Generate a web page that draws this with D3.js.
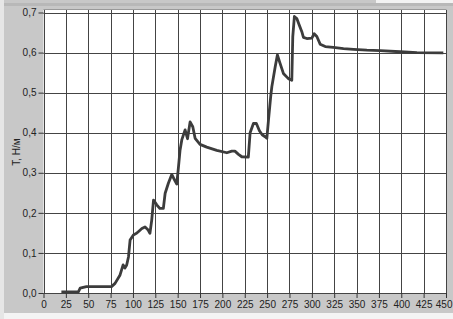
<!DOCTYPE html>
<html><head><meta charset="utf-8">
<script src="https://cdn.jsdelivr.net/npm/d3@7"></script>
<style>body{margin:0;background:#c8c8c8;}svg{display:block;}</style>
</head><body>
<script>
const xValues = [20,39,41,48,76,80,85.6,89,91,93,95,96.8,100.5,104,106,110,113.5,117,119,121,123,126.6,130,134,136,139.6,143.4,147,149,150.8,152.7,154.6,158.3,161,163.9,166.9,169.5,175,182.5,193.7,205,210.5,214,218,221.7,229,231,234.7,238,241.4,244.5,247.8,249.7,251.5,254,255.3,259,261.5,264.5,268.2,273.8,277.6,278.7,280.5,283.2,286,288.8,290.6,294.4,300,302.6,305.6,309.3,315,324,335.4,346.6,361.5,376.4,398.8,417.5,447];
const yValues = [0.003,0.003,0.012,0.016,0.016,0.024,0.045,0.07,0.062,0.07,0.09,0.132,0.145,0.149,0.153,0.161,0.165,0.157,0.149,0.182,0.232,0.22,0.211,0.211,0.249,0.274,0.296,0.28,0.272,0.312,0.357,0.382,0.407,0.385,0.427,0.415,0.386,0.371,0.364,0.356,0.350,0.354,0.354,0.346,0.340,0.339,0.40,0.423,0.423,0.405,0.395,0.390,0.386,0.431,0.490,0.515,0.564,0.594,0.573,0.548,0.535,0.531,0.640,0.690,0.685,0.668,0.652,0.638,0.635,0.636,0.647,0.640,0.621,0.615,0.613,0.610,0.608,0.606,0.605,0.602,0.600,0.599];
const xTicks = [0,25,50,75,100,125,150,175,200,225,250,275,300,325,350,375,400,425,450];
const yTicks = [0,0.1,0.2,0.3,0.4,0.5,0.6,0.7];
const yLabel = "T, Н/м";

const W = 453, H = 319;
const svg = d3.select("body").append("svg").attr("width", W).attr("height", H);
svg.append("rect").attr("x",0).attr("y",0).attr("width",W).attr("height",H).attr("fill","#c8c8c8");
svg.append("rect").attr("x",0).attr("y",313).attr("width",W).attr("height",6).attr("fill","#f4f4f4");
svg.append("rect").attr("x",0).attr("y",0).attr("width",4).attr("height",H).attr("fill","#e6e6e6");
svg.append("rect").attr("x",376).attr("y",0).attr("width",77).attr("height",3).attr("fill","#f2f2f2");
svg.append("rect").attr("x",4).attr("y",3).attr("width",449).attr("height",3).attr("fill","#b8b8b8");

const x = d3.scaleLinear().domain([0,450]).range([43.5,446]);
const y = d3.scaleLinear().domain([0,0.7]).range([293,12.5]);

svg.append("rect").attr("x",43.5).attr("y",10).attr("width",403).attr("height",283).attr("fill","#ffffff");
svg.append("line").attr("x1",43.5).attr("x2",446.5).attr("y1",9.5).attr("y2",9.5).attr("stroke","#9a9a9a");

const grid = svg.append("g").attr("stroke","#444").attr("stroke-width",1);
xTicks.forEach(t => grid.append("line").attr("x1",Math.round(x(t))+0.5).attr("x2",Math.round(x(t))+0.5).attr("y1",10).attr("y2",293));
yTicks.forEach(t => grid.append("line").attr("x1",43.5).attr("x2",446).attr("y1",Math.round(y(t))+0.5).attr("y2",Math.round(y(t))+0.5));

const fmt = d => d3.format(".1f")(d).replace(".", ",");
const xAxis = d3.axisBottom(x).tickValues(xTicks).tickSize(5).tickPadding(3).tickFormat(d3.format("d"));
const yAxis = d3.axisLeft(y).tickValues(yTicks).tickSize(5).tickPadding(2).tickFormat(fmt);
const gx = svg.append("g").attr("transform","translate(0,293)").call(xAxis);
const gy = svg.append("g").attr("transform","translate(43.5,0)").call(yAxis);
[gx,gy].forEach(g=>{
  g.select(".domain").remove();
  g.selectAll("line").attr("stroke","#333");
  g.selectAll("text").attr("fill","#222").style("font-family","Liberation Sans, Arial, sans-serif").style("font-size","10px");
});
gx.selectAll(".tick").filter(d => d === 450).select("text").attr("text-anchor","end").attr("x",6);

svg.append("text").attr("transform","translate(20,152) rotate(-90)").attr("text-anchor","middle")
  .style("font-family","Liberation Sans, Arial, sans-serif").style("font-size","10px").attr("fill","#222").text(yLabel);

const data = xValues.map((v,i)=>[v,yValues[i]]);
svg.append("path").datum(data)
  .attr("d", d3.line().x(d=>x(d[0])).y(d=>y(d[1])))
  .attr("fill","none").attr("stroke","#3c3c3c").attr("stroke-width",2.8).attr("stroke-linejoin","round");
</script>
</body></html>
